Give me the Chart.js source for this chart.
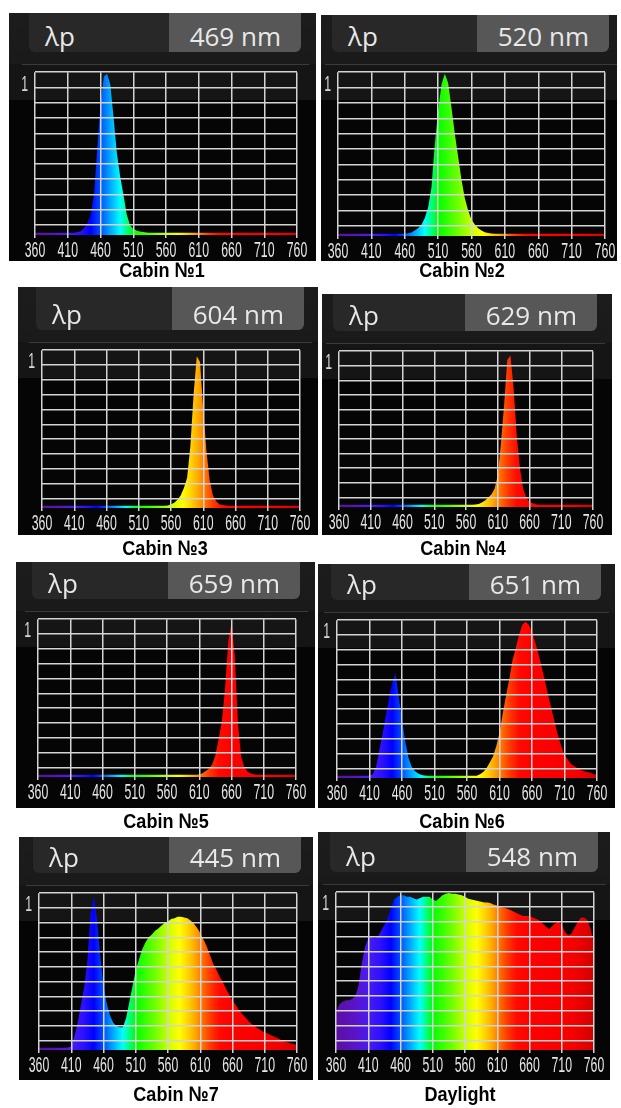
<!DOCTYPE html>
<html>
<head>
<meta charset="utf-8">
<script src="https://cdn.jsdelivr.net/npm/chart.js@4.4.1/dist/chart.umd.min.js"></script>
<style>
  body { margin: 0; width: 621px; height: 1108px; background: #fff; position: relative; overflow: hidden; }
  .panel { position: absolute; overflow: hidden; }
  .hdr { position: absolute; top: 0; background: #282828; border-radius: 0 0 6px 6px; }
  .val { position: absolute; top: 0; right: 0; height: 100%; width: 132px; background: #575757; border-radius: 0 0 6px 0; }
  .txt { position: absolute; font-family: 'Open Sans', 'Noto Sans', sans-serif; font-size: 26px; line-height: 26px; color: #e8e8e8; white-space: nowrap; }
  .sep { position: absolute; height: 1px; background: #3b3b3b; }
  .plotbox { position: absolute; left: 0; }
  .cap { position: absolute; width: 180px; text-align: center; font-family: 'Liberation Sans', Arial, sans-serif;
         font-weight: bold; font-size: 21px; line-height: 22px; color: #000; transform: scaleX(0.86); }
</style>
</head>
<body>
<script>
// wavelength grid (nm)
var wavelengths = [
  360,365,370,375,380,385,390,395,400,405,
  410,415,420,425,430,435,440,445,450,455,
  460,465,470,475,480,485,490,495,500,505,
  510,515,520,525,530,535,540,545,550,555,
  560,565,570,575,580,585,590,595,600,605,
  610,615,620,625,630,635,640,645,650,655,
  660,665,670,675,680,685,690,695,700,705,
  710,715,720,725,730,735,740,745,750,755,
  760
];

// relative intensity
var cabin1 = [
  .05,.05,.05,.05,.05,.05,.05,.05,.05,.05,
  .05,.05,.05,.055,.06,.08,.11,.17,.30,.60,
  .88,1.07,1.09,1.02,.80,.57,.42,.30,.17,.10,
  .075,.065,.058,.055,.052,.05,.05,.05,.05,.05,
  .05,.05,.05,.05,.05,.05,.05,.05,.05,.05,
  .05,.05,.05,.05,.05,.05,.05,.05,.05,.05,
  .05,.05,.05,.05,.05,.05,.05,.05,.05,.05,
  .05,.05,.05,.05,.05,.05,.05,.05,.05,.05,
  .05
];
var cabin2 = [
  .05,.05,.05,.05,.05,.05,.05,.05,.05,.05,
  .05,.05,.05,.05,.05,.05,.05,.05,.05,.05,
  .05,.053,.058,.07,.085,.11,.15,.22,.35,.63,
  .85,1.02,1.09,1.03,.87,.70,.55,.40,.28,.20,
  .14,.11,.085,.07,.06,.055,.052,.05,.05,.05,
  .05,.05,.05,.05,.05,.05,.05,.05,.05,.05,
  .05,.05,.05,.05,.05,.05,.05,.05,.05,.05,
  .05,.05,.05,.05,.05,.05,.05,.05,.05,.05,
  .05
];
var cabin3 = [
  .05,.05,.05,.05,.05,.05,.05,.05,.05,.05,
  .05,.05,.05,.05,.05,.05,.05,.05,.05,.05,
  .05,.05,.05,.05,.05,.05,.05,.05,.05,.05,
  .05,.05,.05,.05,.05,.05,.05,.05,.05,.052,
  .06,.07,.09,.12,.17,.24,.45,.80,1.06,1.02,
  .70,.42,.22,.12,.08,.06,.055,.052,.05,.05,
  .05,.05,.05,.05,.05,.05,.05,.05,.05,.05,
  .05,.05,.05,.05,.05,.05,.05,.05,.05,.05,
  .05
];
var cabin4 = [
  .05,.05,.05,.05,.05,.05,.05,.05,.05,.05,
  .05,.05,.05,.05,.05,.05,.05,.05,.05,.05,
  .05,.05,.05,.05,.05,.05,.05,.05,.05,.05,
  .05,.05,.05,.05,.05,.05,.05,.05,.05,.05,
  .05,.05,.05,.052,.056,.065,.08,.10,.12,.16,
  .25,.47,.73,1.04,1.07,.85,.52,.30,.16,.10,
  .07,.06,.053,.05,.05,.05,.05,.05,.05,.05,
  .05,.05,.05,.05,.05,.05,.05,.05,.05,.05,
  .05
];
var cabin5 = [
  .05,.05,.05,.05,.05,.05,.05,.05,.05,.05,
  .05,.05,.05,.05,.05,.05,.05,.05,.05,.05,
  .05,.05,.05,.05,.05,.05,.05,.05,.05,.05,
  .05,.05,.05,.05,.05,.05,.05,.05,.05,.05,
  .05,.05,.05,.05,.05,.05,.05,.05,.05,.05,
  .052,.06,.075,.09,.12,.18,.29,.41,.63,.95,
  1.08,.86,.40,.17,.10,.07,.058,.053,.05,.05,
  .05,.05,.05,.05,.05,.05,.05,.05,.05,.05,
  .05
];
var cabin6 = [
  .05,.05,.05,.05,.05,.05,.05,.05,.05,.05,
  .052,.06,.11,.22,.33,.45,.57,.68,.74,.58,
  .43,.28,.17,.11,.08,.065,.056,.052,.05,.05,
  .05,.05,.05,.05,.05,.05,.05,.05,.05,.05,
  .05,.05,.05,.05,.06,.075,.10,.14,.18,.25,
  .34,.47,.59,.70,.83,.91,1.00,1.07,1.09,1.07,
  1.02,.95,.87,.78,.69,.59,.50,.41,.32,.25,
  .19,.16,.13,.115,.10,.09,.08,.075,.07,.06,
  .055
];
var cabin7 = [
  .05,.05,.05,.05,.05,.05,.05,.05,.05,.052,
  .06,.13,.22,.34,.46,.64,.96,1.08,.92,.67,
  .47,.35,.27,.22,.20,.19,.19,.25,.36,.47,
  .58,.65,.72,.765,.80,.82,.845,.86,.88,.90,
  .91,.925,.93,.94,.94,.935,.93,.915,.895,.865,
  .83,.785,.74,.68,.62,.58,.535,.495,.45,.41,
  .37,.34,.305,.28,.255,.23,.21,.195,.18,.165,
  .155,.145,.135,.125,.115,.105,.095,.088,.08,.075,
  .07
];
var daylight = [
  .29,.34,.36,.37,.37,.38,.40,.47,.62,.73,
  .79,.80,.79,.80,.84,.88,.92,.99,1.05,1.07,
  1.08,1.08,1.07,1.07,1.06,1.05,1.06,1.07,1.07,1.07,
  1.05,1.04,1.06,1.08,1.09,1.095,1.09,1.09,1.085,1.08,
  1.07,1.055,1.05,1.045,1.04,1.035,1.03,1.03,1.025,1.015,
  1.01,1.0,.995,.99,.98,.97,.96,.95,.94,.94,
  .94,.93,.92,.91,.89,.87,.85,.87,.89,.90,
  .88,.83,.81,.82,.86,.90,.93,.93,.91,.85,
  .75
];

var series = [cabin1, cabin2, cabin3, cabin4, cabin5, cabin6, cabin7, daylight];
var peakLabels = ['469 nm', '520 nm', '604 nm', '629 nm', '659 nm', '651 nm', '445 nm', '548 nm'];
var captions = ['Cabin №1', 'Cabin №2', 'Cabin №3', 'Cabin №4', 'Cabin №5', 'Cabin №6', 'Cabin №7', 'Daylight'];
var xTickValues = [360, 410, 460, 510, 560, 610, 660, 710, 760];
var yTickValues = [0.1, 0.2, 0.3, 0.4, 0.5, 0.6, 0.7, 0.8, 0.9, 1, 1.1];

// screen layout: panel box and plot area [left, top, right, bottom], caption centre
var panels = [
  { box: [9, 13, 316, 261],   plot: [35, 72, 297, 235],    cap: [162, 270] },
  { box: [321, 15, 617, 261], plot: [338, 72, 605, 236],   cap: [462, 270] },
  { box: [18, 287, 318, 535], plot: [42, 350, 300, 508],   cap: [165, 548] },
  { box: [322, 294, 612, 535],plot: [339, 351, 593, 507],  cap: [463, 548] },
  { box: [16, 562, 315, 808], plot: [38, 619, 296, 777],   cap: [166, 821] },
  { box: [318, 564, 615, 808],plot: [337, 620, 597, 778],  cap: [462, 821] },
  { box: [19, 837, 313, 1080],plot: [39, 893, 297, 1050],  cap: [176, 1094] },
  { box: [318, 832, 610, 1080],plot: [336, 892, 594, 1050],cap: [460, 1094] }
];

// colour of light by wavelength
var spectrumStops = [
  [360, '#5b0fa0'], [390, '#5a14c8'], [410, '#4a1cf0'], [430, '#2b10ff'], [445, '#0000ff'],
  [460, '#0050ff'], [475, '#00a8ff'], [490, '#00ffff'], [500, '#00ff80'], [510, '#00ff00'],
  [540, '#70ff00'], [560, '#c8ff00'], [578, '#ffff00'], [592, '#ffd000'], [602, '#ffa800'],
  [612, '#ff7800'], [625, '#ff3c00'], [640, '#ff0a00'], [660, '#ff0000'], [730, '#f40000'],
  [760, '#d20000']
];

var tickFont = { family: "'Liberation Sans', Arial, sans-serif", size: 22 };
var tickSqueeze = 0.56; // the device uses a very narrow digit face

// squeeze canvas text horizontally around its anchor (and measure it that way too)
function squeezeText(ctx) {
  var fill = ctx.fillText, measure = ctx.measureText;
  ctx.fillText = function (t, x, y) {
    this.save();
    this.translate(x, y);
    this.scale(tickSqueeze, 1);
    fill.call(this, t, 0, 0);
    this.restore();
  };
  ctx.measureText = function (t) {
    var m = measure.call(this, t);
    return { width: m.width * tickSqueeze, actualBoundingBoxAscent: m.actualBoundingBoxAscent,
             actualBoundingBoxDescent: m.actualBoundingBoxDescent };
  };
  return ctx;
}

function el(cls, css, parent, text) {
  var d = document.createElement('div');
  d.className = cls;
  d.style.cssText = css;
  if (text) d.textContent = text;
  parent.appendChild(d);
  return d;
}

function spectrumFill(context) {
  var chart = context.chart;
  if (!chart.chartArea) return 'rgba(0,0,0,0)';
  var xs = chart.scales.x;
  var g = chart.ctx.createLinearGradient(xs.getPixelForValue(360), 0, xs.getPixelForValue(760), 0);
  spectrumStops.forEach(function (s) { g.addColorStop((s[0] - 360) / 400, s[1]); });
  return g;
}

panels.forEach(function (p, i) {
  var bx = p.box[0], by = p.box[1], bw = p.box[2] - bx, bh = p.box[3] - by;
  var pl = p.plot[0] - bx, pt = p.plot[1] - by, pr = p.plot[2] - bx, pb = p.plot[3] - by;

  var panel = el('panel', 'left:' + bx + 'px;top:' + by + 'px;width:' + bw + 'px;height:' + bh + 'px;' +
    'background:linear-gradient(#1c1c1c 0px,#1a1a1a ' + (pt - 8) + 'px,#151515 ' + (pt - 8) + 'px,#151515 ' + (pt + 28) +
    'px,#050505 ' + (pt + 28) + 'px,#050505 100%);', document.body);

  var hdr = el('hdr', 'left:' + (pl - 6) + 'px;width:' + (pr + 4 - (pl - 6)) + 'px;height:' + (pt - 20) + 'px;', panel);
  el('val', '', hdr);
  el('txt', 'left:' + (pl + 10) + 'px;top:' + (pt - 49) + 'px;', panel, 'λp');
  el('txt', 'right:' + (bw - (pr - 16)) + 'px;top:' + (pt - 49) + 'px;', panel, peakLabels[i]);
  el('sep', 'left:' + (pl - 13) + 'px;width:' + (pr - pl + 25) + 'px;top:' + (pt - 8) + 'px;', panel);

  var boxTop = pt - 20;
  var holder = el('plotbox', 'top:' + boxTop + 'px;width:' + bw + 'px;height:' + (bh - boxTop) + 'px;', panel);
  var canvas = document.createElement('canvas');
  canvas.width = bw;
  canvas.height = bh - boxTop;
  holder.appendChild(canvas);

  new Chart(squeezeText(canvas.getContext('2d')), {
    type: 'line',
    data: {
      labels: wavelengths,
      datasets: [{
        data: series[i],
        fill: 'start',
        backgroundColor: spectrumFill,
        borderColor: 'rgba(0,0,0,0)',
        borderWidth: 0,
        pointRadius: 0,
        tension: 0
      }]
    },
    options: {
      responsive: false,
      animation: false,
      layout: { padding: { top: 20, left: 0, right: bw - pr, bottom: 0 } },
      plugins: { legend: { display: false }, tooltip: { enabled: false } },
      scales: {
        x: {
          type: 'linear', min: 360, max: 760,
          afterBuildTicks: function (s) { s.ticks = xTickValues.map(function (v) { return { value: v }; }); },
          afterFit: function (s) { s.height = bh - pb; },
          grid: { color: '#d4d4d4', lineWidth: 1.5, z: 1, drawTicks: true, tickLength: 3 },
          border: { display: false },
          ticks: { color: '#e6e6e6', font: tickFont, padding: 0, maxRotation: 0, autoSkip: false }
        },
        y: {
          min: 0.035, max: 1.1,
          afterBuildTicks: function (s) { s.ticks = yTickValues.map(function (v) { return { value: v }; }); },
          afterFit: function (s) { s.width = pl; },
          grid: { color: '#d4d4d4', lineWidth: 1.5, z: 1, drawTicks: false },
          border: { display: false },
          ticks: {
            color: '#d8d8d8', font: tickFont, padding: 7, labelOffset: -3, autoSkip: false,
            callback: function (v) { return v === 1 ? '1' : ''; }
          }
        }
      }
    }
  });

  el('cap', 'left:' + (p.cap[0] - 90) + 'px;top:' + (p.cap[1] - 11) + 'px;', document.body, captions[i]);
});
</script>
</body>
</html>
